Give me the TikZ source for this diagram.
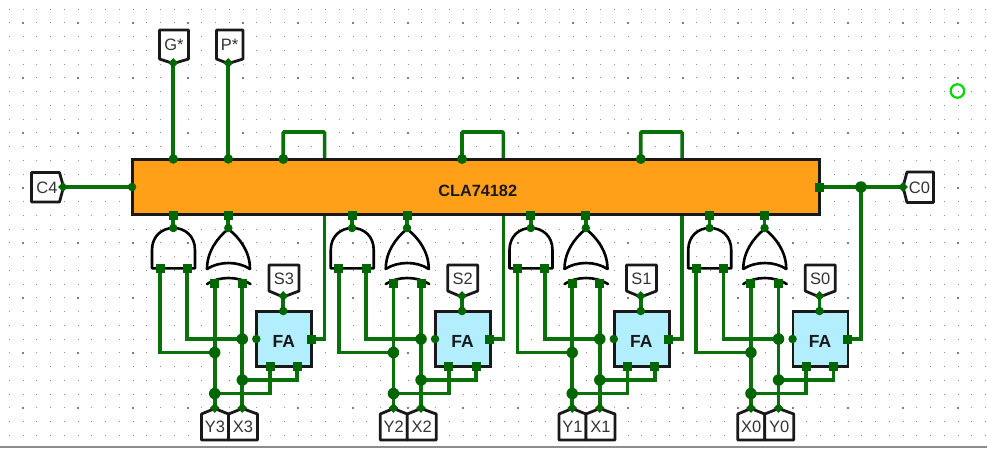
\documentclass[tikz,border=0pt]{standalone}
\usepackage{fontspec}
\setmainfont{Liberation Sans}
\definecolor{wirec}{HTML}{0A700A}
\definecolor{pinc}{HTML}{006600}
\definecolor{chipc}{HTML}{FFA018}
\definecolor{fac}{HTML}{B3EEFF}
\tikzset{
  wire/.style={draw=wirec,line width=3.7pt},
  outline/.style={draw=black!90,line width=2.8pt,line join=round},
  gate/.style={draw=black,line width=2.6pt,line join=round},
  label text/.style={font=\fontsize{16.5}{17}\selectfont,text=black!80,inner sep=0pt},
  bigdot/.style={circle,fill=pinc,minimum size=11.5pt,inner sep=0pt},
  meddot/.style={circle,fill=pinc,minimum size=8.5pt,inner sep=0pt},
  smalldot/.style={diamond,fill=pinc,minimum size=10pt,inner sep=0pt},
  sqpin/.style={rectangle,fill=pinc,minimum size=9pt,inner sep=0pt},
}
\usetikzlibrary{shapes.geometric}
\begin{document}
\begin{tikzpicture}[x=1pt,y=-1pt]
\useasboundingbox (0,0) rectangle (987,448);
\fill[white] (0,0) rectangle (987,448);
% dotted grid
\foreach \i in {0,...,71}{\foreach \j in {0,...,31}{
  \pgfmathtruncatemacro{\maj}{(mod(\i,4)==1 && mod(\j,4)==1) ? 1 : 0}
  \pgfmathsetmacro{\gx}{9.3+13.75*\i}\pgfmathsetmacro{\gy}{9+13.75*\j}
  \ifnum\maj=1
    \fill[black!50] (\gx-0.9,\gy-0.9) rectangle (\gx+0.9,\gy+0.9);
  \else
    \fill[black!45] (\gx-0.5,\gy-0.5) rectangle (\gx+0.5,\gy+0.5);
  \fi
}}
\draw[black!45,line width=2pt] (0,447.2) -- (987,447.2);
% free ring
\node[circle,draw=green!85!black,line width=2.2pt,minimum size=13.5pt,inner sep=0pt] (ring) at (957.4,91) {};

% top-level pin coordinates
\coordinate (gs) at (173.3,63);
\coordinate (ps) at (228.3,63);
\coordinate (gspin) at (173.3,159);
\coordinate (pspin) at (228.3,159);
\coordinate (c4) at (63,187);
\coordinate (c4pin) at (132,187);
\coordinate (c0) at (903,187);
\coordinate (c0pin) at (819.5,187);
\coordinate (c0j) at (861,187);
\draw[wire] (gs) -- (gspin);
\draw[wire] (ps) -- (pspin);
\draw[wire] (c4) -- (c4pin);
\draw[wire] (c0pin) -- (c0);

% units
\foreach \n/\ya/\yb/\sn [count=\k from 0] in {a/Y3/X3/S3,b/Y2/X2/S2,c/Y1/X1/S1,d/X0/Y0/S0}{
\begin{scope}[xshift=\k*178.75pt]
  \coordinate (\n lp) at (283.3,159);
  \coordinate (\n lq) at (324.6,159);
  \coordinate (\n andout) at (173.3,228);
  \coordinate (\n andpin) at (173.3,215);
  \coordinate (\n xorout) at (228.3,228);
  \coordinate (\n xorpin) at (228.3,215);
  \coordinate (\n ia) at (160,268);
  \coordinate (\n ib) at (187.3,268);
  \coordinate (\n xa) at (214.7,283);
  \coordinate (\n xb) at (242.3,283);
  \coordinate (\n fal) at (256.3,339);
  \coordinate (\n far) at (311,339);
  \coordinate (\n fab) at (270,366);
  \coordinate (\n fac) at (297.3,366);
  \coordinate (\n fat) at (283.3,311);
  \coordinate (\n st) at (283.3,296);
  \coordinate (\n j1) at (242.3,339);
  \coordinate (\n j2) at (214.7,352.5);
  \coordinate (\n j3) at (242.3,380);
  \coordinate (\n j4) at (214.7,393.5);
  \coordinate (\n ya) at (214.7,408);
  \coordinate (\n yb) at (242.3,408);
  \coordinate (\n up) at (324.6,132);
  \coordinate (\n rt) at (324.6,214);
  % wires
  \ifnum\k<3
    \draw[wire,rounded corners=1pt] (\n lp) -- (283.3,132) -- (\n up) -- (\n lq);
  \fi
  \draw[wire] (\n andpin) -- (\n andout);
  \draw[wire] (\n xorpin) -- (\n xorout);
  \draw[wire] (\n ia) |- (\n j2);
  \draw[wire] (\n ib) |- (\n j1);
  \draw[wire] (\n xa) -- (\n ya);
  \draw[wire] (\n xb) -- (\n yb);
  \draw[wire] (\n j3) -| (\n fac);
  \draw[wire] (\n j4) -| (\n fab);
  \draw[wire] (\n st) -- (\n fat);
  \ifnum\k=3
    \draw[wire] (\n far) -| (c0j);
  \else
    \draw[wire] (\n far) -| (\n rt);
  \fi
  % gates
  \draw[gate] (152,268.3) -- (152,250) .. controls (152,236) and (162,228) .. (173.5,228)
     .. controls (185,228) and (195,236) .. (195,250) -- (195,268.3) -- cycle;
  \draw[gate] (207,269) .. controls (207,252) and (217,238) .. (228.3,229)
     .. controls (240,238) and (250,252) .. (250,269)
     .. controls (238,261) and (219,261) .. (207,269) -- cycle;
  \draw[gate,line cap=round] (207,284) .. controls (219,276) and (238,276) .. (250.5,284);
  % full adder
  \node[draw=black!90,line width=2.8pt,fill=fac,minimum width=55pt,minimum height=54.5pt,inner sep=0pt] (\n fa) at (284.2,339) {};
  \node[inner sep=0pt,font=\bfseries\fontsize{17.5}{18}\selectfont,text=black!90] (\n fat2) at (283.8,341) {FA};
  % terminals
  \draw[outline,fill=white] (269,265) -- (299,265) -- (299,291) -- (283.3,297) -- (269,291) -- cycle;
  \node[label text] (\n s) at (284,279) {\sn};
  \draw[outline,fill=white] (201.5,440) -- (201.5,414) -- (214.7,408.5) -- (228.5,414) -- (228.5,440) -- cycle;
  \draw[outline,fill=white] (228.5,440) -- (228.5,414) -- (242.3,408.5) -- (257.5,414) -- (257.5,440) -- cycle;
  \node[label text] (\n t1) at (215,427) {\ya};
  \node[label text] (\n t2) at (243,427) {\yb};
  % pins
  \node[meddot] at (\n andout) {};
  \node[meddot] at (\n xorout) {};
  \node[sqpin] at (\n ia) {};
  \node[sqpin] at (\n ib) {};
  \node[sqpin] at (\n xa) {};
  \node[sqpin] at (\n xb) {};
  \node[meddot] at (\n fal) {};
  \node[sqpin] at (\n far) {};
  \node[sqpin] at (\n fab) {};
  \node[sqpin] at (\n fac) {};
  \node[meddot] at (\n fat) {};
  \node[smalldot] at (\n st) {};
  \node[bigdot] at (\n j1) {};
  \node[bigdot] at (\n j2) {};
  \node[bigdot] at (\n j3) {};
  \node[bigdot] at (\n j4) {};
  \node[smalldot] at (\n ya) {};
  \node[smalldot] at (\n yb) {};
\end{scope}
}

% chip
\node[draw=black!90,line width=2.8pt,fill=chipc,minimum width=687pt,minimum height=55pt,inner sep=0pt] (chip) at (476,186.7) {};
\node[inner sep=0pt,font=\bfseries\fontsize{16.3}{17}\selectfont,text=black!90] (chipname) at (477.7,191) {CLA74182};
\foreach \n [count=\k from 0] in {a,b,c,d}{
  \ifnum\k<3 \node[meddot,minimum size=10pt] at (\n lp) {}; \fi
  \node[sqpin] at (\n andpin) {};
  \node[sqpin] at (\n xorpin) {};
}
\node[meddot,minimum size=9.5pt] at (gspin) {};
\node[meddot,minimum size=9.5pt] at (pspin) {};
\node[meddot] at (c4pin) {};
\node[sqpin] at (c0pin) {};
\node[bigdot] at (c0j) {};

% top / side terminals
\draw[outline,fill=white] (159.5,30) -- (188.5,30) -- (188.5,59) -- (173.3,63.5) -- (159.5,59) -- cycle;
\node[label text] (gl) at (174,45) {G*};
\draw[outline,fill=white] (216.5,30) -- (243,30) -- (243,59) -- (228.3,63.5) -- (216.5,59) -- cycle;
\node[label text] (pl) at (229.5,45) {P*};
\draw[outline,fill=white] (31.5,172.5) -- (59.5,172.5) -- (63.5,187) -- (59.5,202) -- (31.5,202) -- cycle;
\node[label text] (cfour) at (47,187.5) {C4};
\draw[outline,fill=white] (907,172) -- (933.5,172) -- (933.5,202.5) -- (907,202.5) -- (903,187) -- cycle;
\node[label text] (czero) at (919.5,187.5) {C0};
\node[smalldot] at (gs) {};
\node[smalldot] at (ps) {};
\node[smalldot] at (c4) {};
\node[smalldot] at (c0) {};
\end{tikzpicture}
\end{document}
